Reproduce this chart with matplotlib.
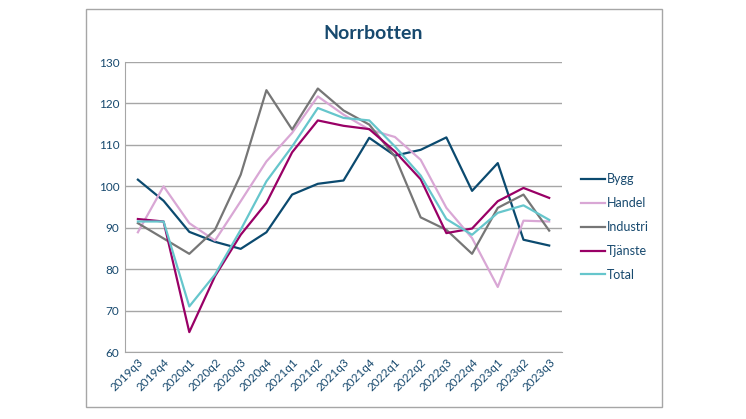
import matplotlib.pyplot as plt
from matplotlib.patches import Rectangle

plt.rcParams['font.family'] = ['Lato', 'DejaVu Sans']

quarters = ['2019q3', '2019q4', '2020q1', '2020q2', '2020q3', '2020q4', '2021q1', '2021q2',
            '2021q3', '2021q4', '2022q1', '2022q2', '2022q3', '2022q4', '2023q1', '2023q2', '2023q3']

bygg = [101.6, 96.5, 89.0, 86.6, 84.9, 88.9, 98.0, 100.6, 101.4, 111.7, 107.4, 108.8, 111.8, 98.9, 105.6, 87.1, 85.7]
handel = [88.9, 100.0, 91.1, 86.9, 96.4, 106.0, 112.9, 121.7, 117.3, 113.7, 111.9, 106.4, 94.8, 87.5, 75.7, 91.7, 91.5]
industri = [91.1, 87.4, 83.7, 89.5, 102.8, 123.2, 113.7, 123.6, 118.3, 114.9, 107.2, 92.5, 89.5, 83.7, 94.8, 98.0, 89.3]
tjanste = [92.1, 91.5, 64.8, 78.3, 88.3, 96.0, 108.2, 115.9, 114.6, 113.8, 108.4, 101.7, 88.7, 89.8, 96.4, 99.6, 97.2]
total = [91.5, 91.5, 71.0, 78.7, 89.5, 101.2, 109.6, 118.9, 116.5, 115.9, 109.6, 102.6, 92.1, 88.3, 93.6, 95.4, 91.9]

series = [
    ('Bygg', bygg, '#0B4A6F'),
    ('Handel', handel, '#D9A7D5'),
    ('Industri', industri, '#767676'),
    ('Tjänste', tjanste, '#990066'),
    ('Total', total, '#66C6CC'),
]

text_color = '#17496E'

fig = plt.figure(figsize=(7.46, 4.19), dpi=100)
fig.patches.append(Rectangle((0.1153, 0.0286), 0.7721, 0.9499, transform=fig.transFigure,
                             fill=False, edgecolor='#A6A6A6', linewidth=1))

ax = fig.add_axes([0.1676, 0.1599, 0.5858, 0.6921])
x = range(len(quarters))
for name, vals, col in series:
    ax.plot(x, vals, color=col, linewidth=1.6, label=name)

ax.set_ylim(60, 130)
ax.set_yticks(range(60, 131, 10))
ax.set_xlim(-0.5, len(quarters) - 0.5)
ax.set_xticks(list(x))
ax.set_xticklabels(quarters, rotation=45, ha='right', va='top', rotation_mode='anchor')
ax.grid(axis='y', color='#A6A6A6', linewidth=1)
ax.set_axisbelow(True)
for s in ['top', 'right']:
    ax.spines[s].set_visible(False)
for s in ['left', 'bottom']:
    ax.spines[s].set_color('#A6A6A6')
ax.tick_params(length=0, labelsize=8.5, labelcolor=text_color)
ax.tick_params(axis='y', pad=4)
ax.tick_params(axis='x', pad=3)

fig.text(0.5, 0.921, 'Norrbotten', ha='center', va='center', fontsize=14,
         fontweight='bold', color=text_color)

leg = ax.legend(loc='center left', bbox_to_anchor=(1.043, 0.431), frameon=False,
                fontsize=9, handlelength=1.9, handletextpad=0.2, labelspacing=0.95,
                borderpad=0, borderaxespad=0)
for t in leg.get_texts():
    t.set_color(text_color)

fig.savefig('out.png', dpi=100)
